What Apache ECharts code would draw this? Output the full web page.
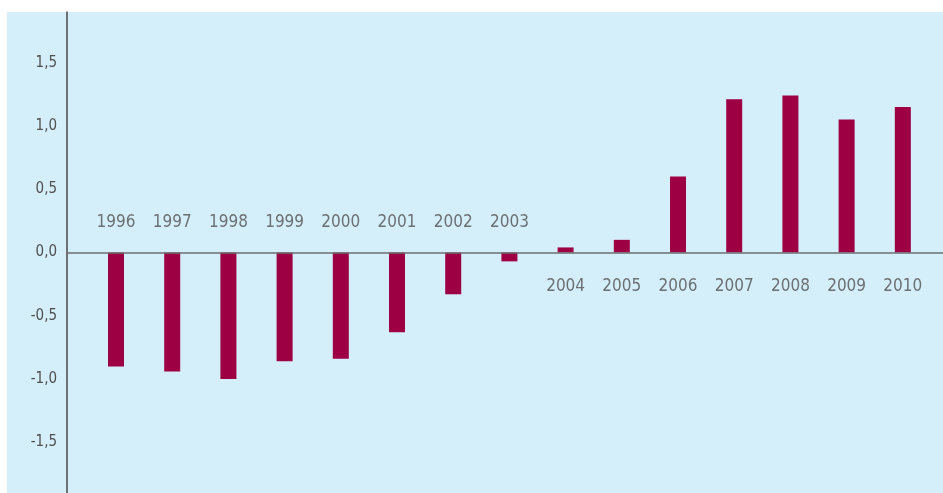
<!DOCTYPE html>
<html>
<head>
<meta charset="utf-8">
<script src="https://cdn.jsdelivr.net/npm/echarts@6/dist/echarts.min.js"></script>
<style>
html,body{margin:0;padding:0;background:#ffffff;}
#chart{width:943px;height:493px;}
</style>
</head>
<body>
<div id="chart"></div>
<script>
const years = [1996, 1997, 1998, 1999, 2000, 2001, 2002, 2003, 2004, 2005, 2006, 2007, 2008, 2009, 2010];
const values = [-0.90, -0.94, -1.00, -0.86, -0.84, -0.63, -0.33, -0.07, 0.04, 0.10, 0.60, 1.21, 1.24, 1.05, 1.15];
const yTicks = [-1.5, -1.0, -0.5, 0.0, 0.5, 1.0, 1.5];

const FONT = "'Liberation Sans Narrow', 'DejaVu Sans Condensed', 'Lato', sans-serif";
const chart = echarts.init(document.getElementById('chart'), null, {renderer: 'canvas'});

const barData = years.map((y, i) => [y, values[i]]);
const labelData = years.map((y, i) => ({
  value: [y, 0],
  label: { offset: [0, values[i] < 0 ? -30 : 34] }
}));

chart.setOption({
  animation: false,
  backgroundColor: '#ffffff',
  graphic: [{
    type: 'rect', z: -10, silent: true,
    shape: {x: 7, y: 12, width: 936, height: 481},
    style: {fill: '#d4eefa'}
  }],
  grid: {left: 67, right: 0, top: 12, bottom: 0, containLabel: false},
  xAxis: {
    type: 'value', min: 1995.128, max: 2010.715, z: 10,
    axisLine: {show: true, onZero: true, lineStyle: {color: '#6b6f74', width: 1.5}},
    axisTick: {show: false}, axisLabel: {show: false}, splitLine: {show: false}
  },
  yAxis: {
    type: 'value', min: -1.9, max: 1.9, z: 10,
    axisLine: {show: true, lineStyle: {color: '#4a4a4a', width: 1.5}},
    axisTick: {show: false},
    splitLine: {show: false},
    axisLabel: {
      customValues: yTicks,
      margin: 10,
      color: '#505050', fontSize: 15, fontFamily: FONT,
      formatter: v => v.toFixed(1).replace('.', ',')
    }
  },
  series: [{
    type: 'bar', data: barData, barWidth: 16,
    itemStyle: {color: '#9e0044'}
  }, {
    type: 'scatter', data: labelData, symbolSize: 0, silent: true,
    label: {
      show: true, position: 'inside',
      formatter: p => String(p.value[0]),
      color: '#505050', fontSize: 17, fontFamily: FONT
    }
  }]
});
</script>
</body>
</html>
